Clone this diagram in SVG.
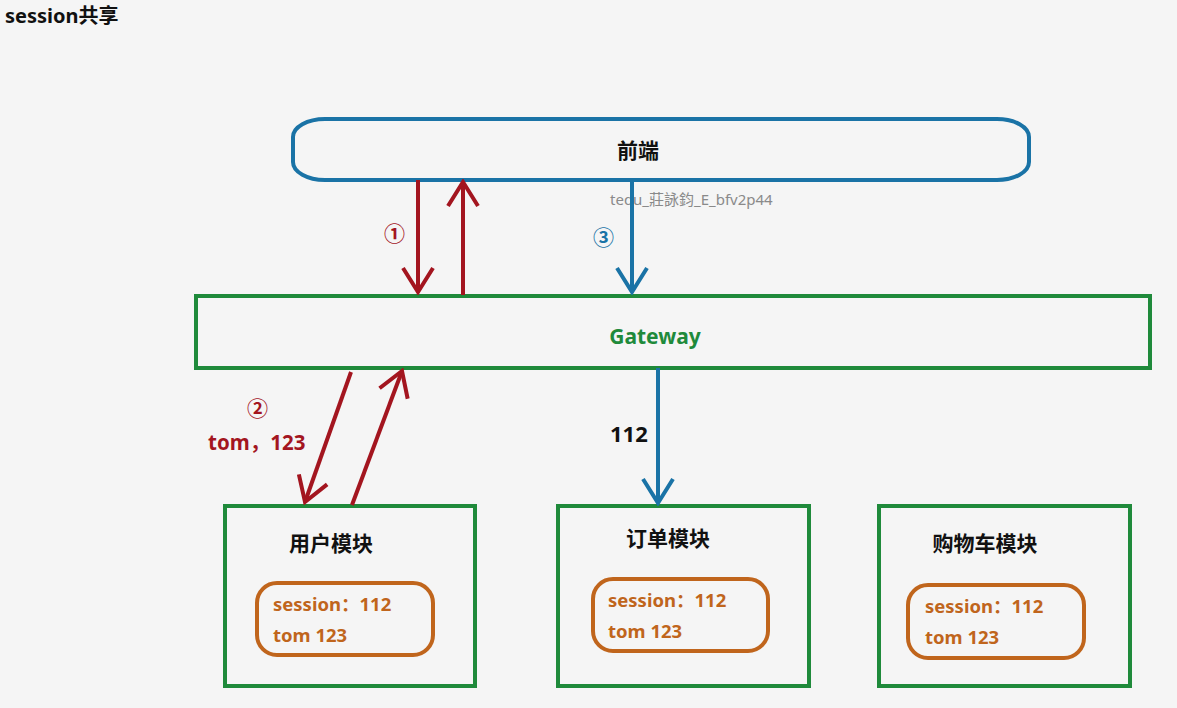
<svg xmlns="http://www.w3.org/2000/svg" width="1177" height="708" viewBox="0 0 1177 708">
<style>
text{font-family:"Noto Sans","Noto Sans CJK SC",sans-serif;font-weight:bold}
.mod{fill:none;stroke:#1f8a3b;stroke-width:4}
.inner{fill:none;stroke:#c0651c;stroke-width:4}
.itx{font-size:18.5px;fill:#c0651c}
.ttl{font-size:21px;fill:#111}
.red{stroke:#a3151f;stroke-width:4;fill:none}
.blue{stroke:#1a73a6;stroke-width:4;fill:none}
.num{font-size:21px}
</style>
<defs>
<marker id="hr" viewBox="0 0 30 40" refX="27" refY="20" markerWidth="30" markerHeight="40" markerUnits="userSpaceOnUse" orient="auto">
<path d="M3,5 L27,20 L3,35" fill="none" stroke="#a3151f" stroke-width="4"/>
</marker>
<marker id="hb" viewBox="0 0 30 40" refX="27" refY="20" markerWidth="30" markerHeight="40" markerUnits="userSpaceOnUse" orient="auto">
<path d="M3,5 L27,20 L3,35" fill="none" stroke="#1a73a6" stroke-width="4"/>
</marker>
</defs>
<rect width="1177" height="708" fill="#f5f5f5"/>
<text x="5" y="23" font-size="20" fill="#111">session共享</text>
<g id="frontend">
<rect x="293" y="119" width="736" height="61" rx="32" ry="18" fill="none" stroke="#1a73a6" stroke-width="4"/>
<text x="638" y="158" font-size="21" fill="#111" text-anchor="middle">前端</text>
</g>
<text x="610" y="205" font-size="15" fill="#8a8a8a" style="font-weight:normal">tedu_莊詠鈞_E_bfv2p44</text>
<g id="gateway">
<rect x="196" y="296" width="954" height="72" fill="none" stroke="#1f8a3b" stroke-width="4"/>
<text x="655" y="344" font-size="21" fill="#1f8a3b" text-anchor="middle">Gateway</text>
</g>
<g id="user">
<rect class="mod" x="225" y="506" width="250" height="180"/>
<text class="ttl" x="331" y="551" text-anchor="middle">用户模块</text>
<rect class="inner" x="257" y="583" width="176" height="72" rx="20"/>
<text class="itx" x="273" y="611">session：112</text>
<text class="itx" x="273" y="642">tom 123</text>
</g>
<g id="order">
<rect class="mod" x="558" y="506" width="251" height="180"/>
<text class="ttl" x="668" y="546" text-anchor="middle">订单模块</text>
<rect class="inner" x="593" y="579" width="175" height="72" rx="20"/>
<text class="itx" x="608" y="607">session：112</text>
<text class="itx" x="608" y="638">tom 123</text>
</g>
<g id="cart">
<rect class="mod" x="879" y="506" width="251" height="180"/>
<text class="ttl" x="985" y="551" text-anchor="middle">购物车模块</text>
<rect class="inner" x="908" y="585" width="176" height="73" rx="20"/>
<text class="itx" x="925" y="613">session：112</text>
<text class="itx" x="925" y="644">tom 123</text>
</g>
<g id="connectors">
<line class="red" x1="418" y1="180" x2="418" y2="292" marker-end="url(#hr)"/>
<line class="red" x1="463" y1="295" x2="463" y2="182" marker-end="url(#hr)"/>
<line class="blue" x1="632" y1="180" x2="632" y2="292" marker-end="url(#hb)"/>
<line class="blue" x1="658" y1="368" x2="658" y2="503" marker-end="url(#hb)"/>
<line class="red" x1="351" y1="372" x2="305" y2="502" marker-end="url(#hr)"/>
<line class="red" x1="352" y1="505" x2="402" y2="371" marker-end="url(#hr)"/>
<text class="num" x="384" y="241" fill="#a3151f">①</text>
<text class="num" x="593" y="245" fill="#1a73a6">③</text>
<text class="num" x="247" y="416" fill="#a3151f">②</text>
<text x="208" y="450" font-size="20.5" fill="#a3151f">tom，123</text>
<text x="610" y="442" font-size="22" fill="#111">112</text>
</g>
</svg>
